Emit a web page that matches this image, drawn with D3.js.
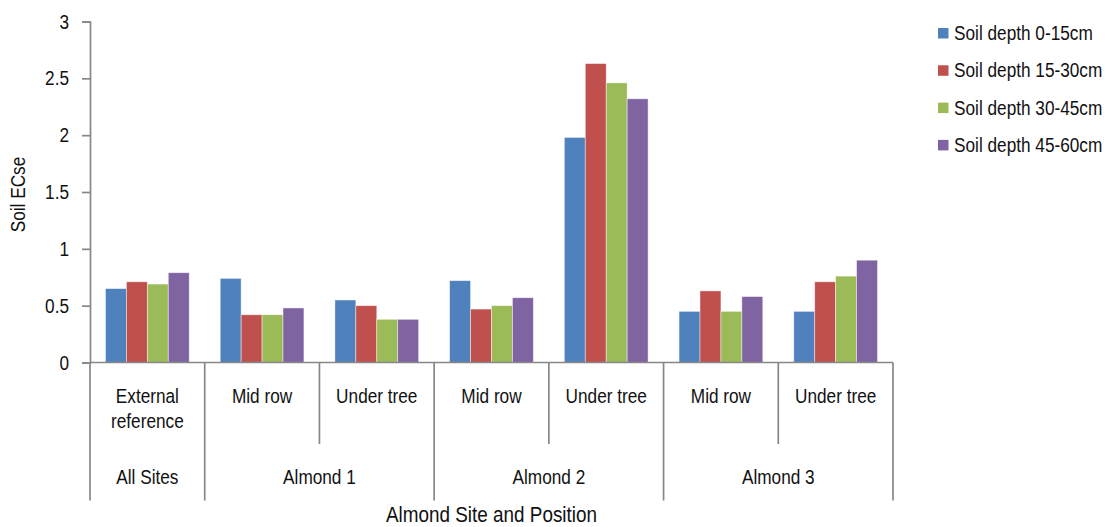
<!DOCTYPE html>
<html>
<head>
<meta charset="utf-8">
<script src="https://cdn.jsdelivr.net/npm/d3@7"></script>
<style>
  html, body { margin: 0; padding: 0; background: #fff; }
  svg { display: block; }
  text { font-family: "Liberation Sans", Arial, sans-serif; fill: #111; }
</style>
</head>
<body>
<svg id="chart" width="1105" height="527"></svg>
<script>
// Soil ECse by site, position and depth
const positions = ["External\nreference", "Mid row", "Under tree", "Mid row", "Under tree", "Mid row", "Under tree"];
const sites = ["All Sites", "Almond 1", "Almond 1", "Almond 2", "Almond 2", "Almond 3", "Almond 3"];
const seriesNames = ["Soil depth 0-15cm", "Soil depth 15-30cm", "Soil depth 30-45cm", "Soil depth 45-60cm"];
const depth0_15  = [0.65, 0.74, 0.55, 0.72, 1.98, 0.45, 0.45];
const depth15_30 = [0.71, 0.42, 0.50, 0.47, 2.63, 0.63, 0.71];
const depth30_45 = [0.69, 0.42, 0.38, 0.50, 2.46, 0.45, 0.76];
const depth45_60 = [0.79, 0.48, 0.38, 0.57, 2.32, 0.58, 0.90];
const yTicks = [0, 0.5, 1, 1.5, 2, 2.5, 3];
const colors = ["#4F81BD", "#C0504D", "#9BBB59", "#8064A2"];

const seriesValues = [depth0_15, depth15_30, depth30_45, depth45_60];
const svg = d3.select("#chart");
const axisColor = "#878787";
const squeeze = 0.84;   // condensed lettering
const fontSize = 20.5;

const plotLeft = 90, plotRight = 893, plotTop = 21.5, plotBottom = 362.5;
const idx = d3.range(positions.length);

const x0 = d3.scaleBand().domain(idx).range([plotLeft, plotRight]).padding(0);
const x1 = d3.scaleBand().domain(d3.range(seriesNames.length))
  .range([0, x0.bandwidth()]).paddingInner(0).paddingOuter(0.74);
const y = d3.scaleLinear().domain([0, 3]).range([plotBottom, plotTop]);

// condensed text placed at (x, y); lines stack downward
function narrowText(parent, x, yPos, lines, opts = {}) {
  const g = parent.append("g").attr("transform", `translate(${x},${yPos})${opts.rotate ? ` rotate(${opts.rotate})` : ""}`);
  const t = g.append("text")
    .attr("transform", `scale(${squeeze},1)`)
    .attr("text-anchor", opts.anchor || "middle")
    .attr("font-size", opts.size || fontSize);
  t.selectAll("tspan").data(lines).join("tspan")
    .attr("x", 0)
    .attr("dy", (d, k) => k === 0 ? 0 : (opts.lineHeight || 25.5))
    .text(d => d);
  return g;
}

// bars
const groups = svg.append("g").selectAll("g")
  .data(idx).join("g")
  .attr("transform", i => `translate(${x0(i)},0)`);
groups.selectAll("rect")
  .data(i => seriesValues.map((vals, s) => ({ s, v: vals[i] })))
  .join("rect")
  .attr("x", d => x1(d.s))
  .attr("y", d => y(d.v))
  .attr("width", x1.bandwidth())
  .attr("height", d => y(0) - y(d.v))
  .attr("fill", d => colors[d.s])
  .attr("stroke", "rgba(255,255,255,0.55)")
  .attr("stroke-width", 0.8);

// y axis
const yAxis = d3.axisLeft(y).tickValues(yTicks).tickSize(8).tickPadding(13).tickFormat(d3.format("~g"));
const gy = svg.append("g").attr("transform", `translate(${plotLeft},0)`).call(yAxis);
gy.attr("font-family", null).attr("font-size", null);
gy.select(".domain").attr("stroke", axisColor).attr("stroke-width", 1.7);
gy.selectAll(".tick line").attr("stroke", axisColor).attr("stroke-width", 1.7);
gy.selectAll(".tick text")
  .attr("font-size", fontSize).attr("fill", "#111")
  .attr("x", -21 / squeeze)
  .attr("transform", `scale(${squeeze},1)`);

// x axis baseline
svg.append("line").attr("x1", plotLeft).attr("x2", plotRight).attr("y1", plotBottom).attr("y2", plotBottom)
  .attr("stroke", axisColor).attr("stroke-width", 1.7);

// separators: short between positions within a site, long between sites
const boundaries = d3.range(positions.length + 1);
svg.append("g").selectAll("line")
  .data(boundaries).join("line")
  .attr("x1", b => b < positions.length ? x0(b) : plotRight)
  .attr("x2", b => b < positions.length ? x0(b) : plotRight)
  .attr("y1", plotBottom)
  .attr("y2", b => (b === 0 || b === positions.length || sites[b] !== sites[b - 1]) ? 500.5 : 444)
  .attr("stroke", axisColor).attr("stroke-width", 1.7);

// position labels
const posLayer = svg.append("g");
idx.forEach(i => narrowText(posLayer, x0(i) + x0.bandwidth() / 2, 403, positions[i].split("\n")));

// site labels, centered over their run of positions
const siteLayer = svg.append("g");
Array.from(new Set(sites)).forEach(s => {
  const members = idx.filter(i => sites[i] === s);
  const cx = (x0(members[0]) + x0(members[members.length - 1]) + x0.bandwidth()) / 2;
  narrowText(siteLayer, cx, 484, [s]);
});

// axis titles
narrowText(svg, (plotLeft + plotRight) / 2, 521.5, ["Almond Site and Position"], { size: 22.5 });
narrowText(svg, 25, 194.5, ["Soil ECse"], { rotate: -90 });

// legend
const legend = svg.append("g");
seriesNames.forEach((name, i) => {
  const row = legend.append("g").attr("transform", `translate(938,${33 + i * 37.3})`);
  row.append("rect").attr("x", 0).attr("y", -5).attr("width", 10.5).attr("height", 10.5)
    .attr("fill", colors[i]);
  narrowText(row, 16, 7, [name], { anchor: "start" });
});
</script>
</body>
</html>
